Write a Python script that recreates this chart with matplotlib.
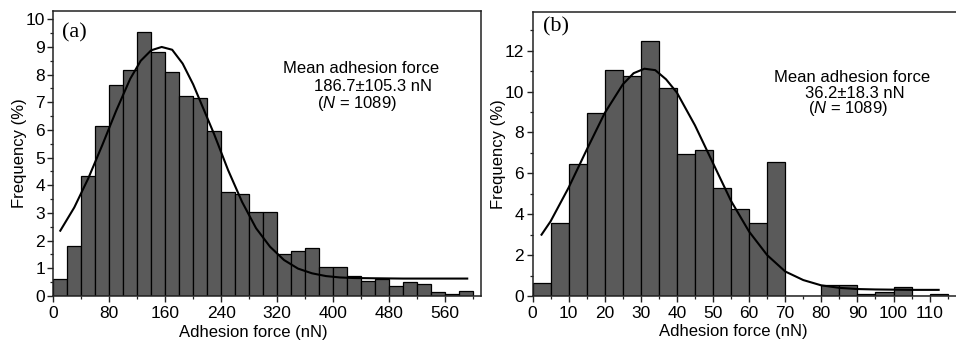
import matplotlib
matplotlib.use("Agg")
import matplotlib.pyplot as plt
from matplotlib.ticker import MultipleLocator

plt.rcParams['font.family'] = ['Liberation Sans', 'DejaVu Sans']
plt.rcParams['mathtext.fontset'] = 'custom'
plt.rcParams['mathtext.rm'] = 'Liberation Sans'
plt.rcParams['mathtext.it'] = 'Liberation Sans:italic'

# ---------------- data ----------------
# panel (a): bin width 20 nN
a_bin_left = list(range(0, 600, 20))
a_freq = [0.63, 1.82, 4.32, 6.16, 7.63, 8.18, 9.55, 8.83, 8.08, 7.24,
          7.14, 5.97, 3.75, 3.67, 3.02, 3.02, 1.52, 1.64, 1.72, 1.06,
          1.06, 0.72, 0.54, 0.60, 0.36, 0.52, 0.43, 0.16, 0.08, 0.18]
a_curve_x = [10, 30, 50, 70, 90, 110, 125, 140, 155, 170, 185, 200, 215, 230,
             250, 270, 290, 310, 330, 350, 370, 390, 410, 430, 460, 500, 550, 592]
a_curve_y = [2.36, 3.20, 4.25, 5.45, 6.70, 7.85, 8.50, 8.88, 9.00, 8.90,
             8.40, 7.65, 6.75, 5.85, 4.55, 3.40, 2.45, 1.78, 1.30, 0.99,
             0.82, 0.72, 0.67, 0.65, 0.64, 0.63, 0.63, 0.63]
a_xticks = [0, 80, 160, 240, 320, 400, 480, 560]
a_text = ["Mean adhesion force", "186.7\u00b1105.3 nN", "($N$ = 1089)"]

# panel (b): bin width 5 nN
b_bin_left = list(range(0, 115, 5))
b_freq = [0.62, 3.59, 6.47, 8.94, 11.06, 10.75, 12.48, 10.19, 6.96, 7.15,
          5.30, 4.26, 3.59, 6.57, 0.0, 0.0, 0.52, 0.52, 0.10, 0.18,
          0.43, 0.0, 0.10]
b_curve_x = [2.5, 5, 10, 15, 20, 25, 28, 31, 34, 37, 40, 45, 50, 55, 60, 65, 70,
             75, 80, 85, 90, 95, 100, 105, 112.5]
b_curve_y = [3.0, 3.65, 5.3, 7.15, 8.95, 10.35, 10.9, 11.12, 11.05, 10.6,
             9.95, 8.35, 6.5, 4.65, 3.15, 2.0, 1.2, 0.78, 0.52, 0.40, 0.34,
             0.32, 0.31, 0.30, 0.30]
b_xticks = [0, 10, 20, 30, 40, 50, 60, 70, 80, 90, 100, 110]
b_text = ["Mean adhesion force", "36.2\u00b118.3 nN", "($N$ = 1089)"]

BAR_COLOR = '#5a5a5a'
W, H = 956, 344

fig = plt.figure(figsize=(W / 100, H / 100), dpi=100)


def px_axes(left, right, top, bottom):
    return fig.add_axes([left / W, 1 - bottom / H, (right - left) / W, (bottom - top) / H])


ax_a = px_axes(53.3, 480.5, 11, 296)
ax_b = px_axes(532.5, 958.5, 12.3, 296)


def style(ax):
    for s in ax.spines.values():
        s.set_linewidth(1.1)
        s.set_color('#222222')
    ax.tick_params(which='major', direction='out', length=4.5, width=1.0,
                   labelsize=12.5, pad=1.5, color='#222222')
    ax.tick_params(which='minor', direction='out', length=2.5, width=0.9,
                   color='#222222')
    ax.tick_params(axis='x', which='major', pad=3)


# panel (a)
ax_a.bar(a_bin_left, a_freq, width=20, align='edge', color=BAR_COLOR,
         edgecolor='black', linewidth=0.9)
ax_a.plot(a_curve_x, a_curve_y, color='black', lw=1.5)
ax_a.set_xlim(0, 611)
ax_a.set_ylim(0, 10.3)
ax_a.set_xticks(a_xticks)
ax_a.xaxis.set_minor_locator(MultipleLocator(40))
ax_a.yaxis.set_major_locator(MultipleLocator(1))
ax_a.yaxis.set_minor_locator(MultipleLocator(0.5))
style(ax_a)
ax_a.set_ylabel("Frequency (%)", fontsize=12)
ax_a.yaxis.set_label_coords(-0.062, 0.5)
ax_a.set_xlabel("Adhesion force (nN)", fontsize=12)
ax_a.xaxis.set_label_coords(0.469, -0.1)
ax_a.text(12, 9.36, "(a)", fontsize=16, family='Liberation Serif', va='baseline')
ax_a.text(328, 8.05, a_text[0], fontsize=12, va='baseline')
ax_a.text(373, 7.40, a_text[1], fontsize=12, va='baseline')
ax_a.text(377, 6.80, a_text[2], fontsize=12, va='baseline')

# panel (b)
ax_b.bar(b_bin_left, b_freq, width=5, align='edge', color=BAR_COLOR,
         edgecolor='black', linewidth=0.9)
ax_b.plot(b_curve_x, b_curve_y, color='black', lw=1.5)
ax_b.set_xlim(0, 118)
ax_b.set_ylim(0, 13.88)
ax_b.set_xticks(b_xticks)
ax_b.xaxis.set_minor_locator(MultipleLocator(5))
ax_b.yaxis.set_major_locator(MultipleLocator(2))
ax_b.yaxis.set_minor_locator(MultipleLocator(1))
style(ax_b)
ax_b.set_ylabel("Frequency (%)", fontsize=12)
ax_b.yaxis.set_label_coords(-0.062, 0.5)
ax_b.set_xlabel("Adhesion force (nN)", fontsize=12)
ax_b.xaxis.set_label_coords(0.471, -0.1)
ax_b.text(3.0, 12.93, "(b)", fontsize=16, family='Liberation Serif', va='baseline')
ax_b.text(66.9, 10.48, b_text[0], fontsize=12, va='baseline')
ax_b.text(75.5, 9.67, b_text[1], fontsize=12, va='baseline')
ax_b.text(76.3, 8.93, b_text[2], fontsize=12, va='baseline')

fig.savefig("out.png", dpi=100)
